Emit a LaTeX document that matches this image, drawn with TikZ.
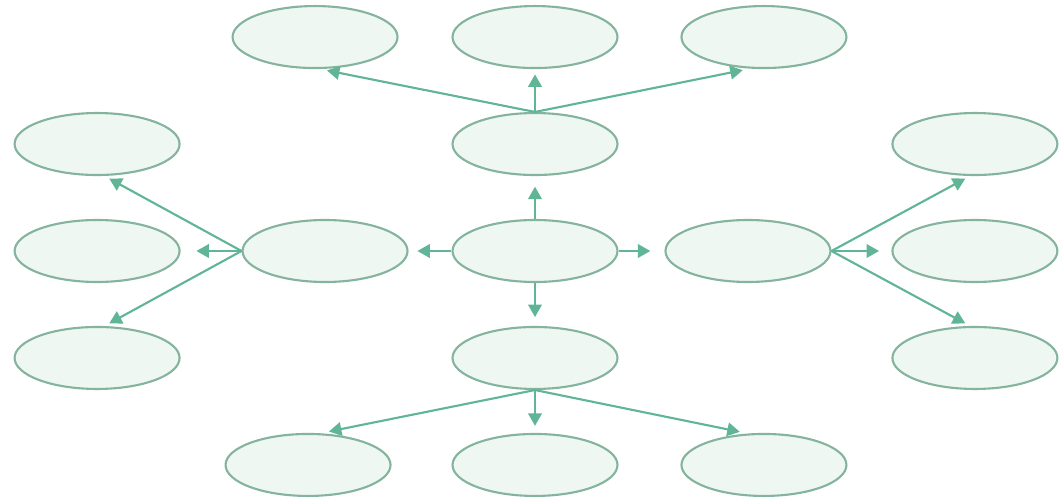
\documentclass[tikz,border=0pt]{standalone}
\usepackage{xcolor}
\definecolor{colorLine}{HTML}{5FB596}
\definecolor{colorBorder}{HTML}{84B39E}
\definecolor{colorFill}{HTML}{EEF7F1}
\usepackage{tikz}
\usetikzlibrary{arrows.meta, shapes.geometric, positioning}
\tikzset{bubble/.style={ellipse, draw=colorBorder, fill=colorFill, line width=1.2pt, minimum width=3.3cm, minimum height=1.24cm, inner sep=0pt}}

\begin{document}
\begin{tikzpicture}[>={Triangle[length=0.25cm, width=0.27cm]}, line width=1.2pt, node distance=2.14cm, x=0.02cm, y=-0.02cm]
\useasboundingbox (0,0) rectangle (1062,503);
\node[bubble] (c) at (535,251) {};
\node[bubble, above of =c] (tm) {};
\node[bubble, below of =c] (bm) {};
\node[bubble, left of =c, node distance=4.2cm] (lm) {};
\node[bubble, right of =c, node distance=4.26cm] (rm) {};
\node[bubble, above of =tm] (tc) {};
\node[bubble, left of =tc, node distance=4.4cm] (tl) {};
\node[bubble, right of =tc, node distance=4.58cm] (tr) {};
\node[bubble, below of =bm] (bc) {};
\node[bubble, left of =bc, node distance=4.54cm] (bl) {};
\node[bubble, right of =bc, node distance=4.58cm] (br) {};
\node[bubble, left of =lm, node distance=4.56cm] (fl2) {};
\node[bubble, above of =fl2] (fl1) {};
\node[bubble, below of =fl2] (fl3) {};
\node[bubble, right of =rm, node distance=4.54cm] (fr2) {};
\node[bubble, above of =fr2] (fr1) {};
\node[bubble, below of =fr2] (fr3) {};
% from the middle
\draw [->, colorLine, shorten >=6] (c.north) -- (tm.south);
\draw [->, colorLine, shorten >=5] (c.south) -- (bm.north);
\draw [->, colorLine, shorten >=5] (c.west) -- (lm.east);
\draw [->, colorLine, shorten >=8] (c.east) -- (rm.west);
% top branch
\draw [->, colorLine, shorten >=4] (tm.north) -- ([xshift=0.1cm]tl.south);
\draw [->, colorLine, shorten >=3] (tm.north) -- (tc.south);
\draw [->, colorLine, shorten >=3] (tm.north) -- ([xshift=-0.32cm]tr.south);
% bottom branch
\draw [->, colorLine, shorten >=4] (bm.south) -- ([xshift=0.28cm]bl.north);
\draw [->, colorLine, shorten >=4] (bm.south) -- (bc.north);
\draw [->, colorLine, shorten >=3] (bm.south) -- ([xshift=-0.38cm]br.north);
% left branch
\draw [->, colorLine, shorten >=3] (lm.west) -- ([xshift=0.15cm]fl1.south);
\draw [->, colorLine, shorten >=9] (lm.west) -- (fl2.east);
\draw [->, colorLine, shorten >=3] (lm.west) -- ([xshift=0.15cm]fl3.north);
% right branch
\draw [->, colorLine, shorten >=3] (rm.east) -- ([xshift=-0.1cm]fr1.south);
\draw [->, colorLine, shorten >=7] (rm.east) -- (fr2.west);
\draw [->, colorLine, shorten >=3] (rm.east) -- ([xshift=-0.1cm]fr3.north);
\end{tikzpicture}
\end{document}
